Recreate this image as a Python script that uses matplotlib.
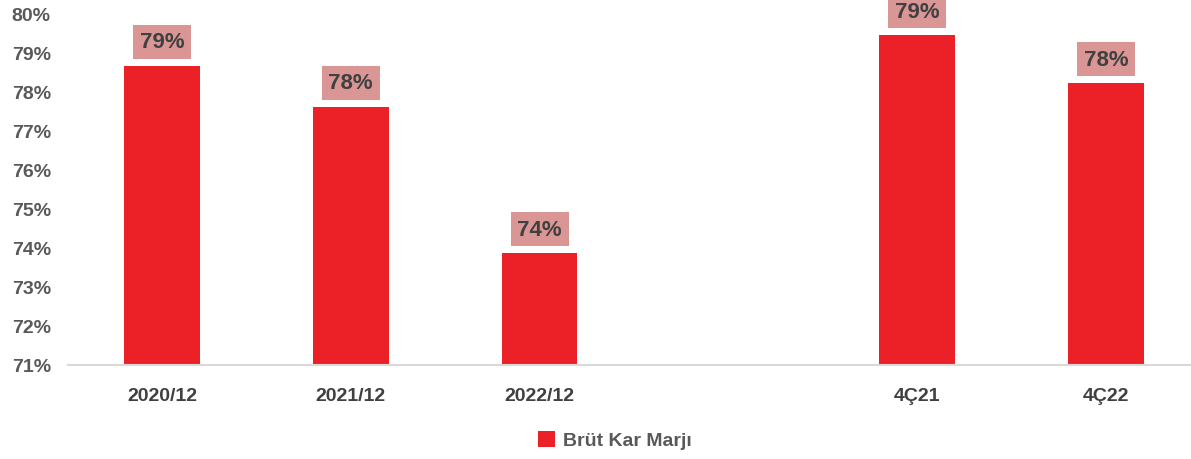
import matplotlib.pyplot as plt
from matplotlib import font_manager

categories = ["2020/12", "2021/12", "2022/12", "", "4Ç21", "4Ç22"]
margins = [78.67, 77.62, 73.87, None, 79.46, 78.23]
y_ticks = [71, 72, 73, 74, 75, 76, 77, 78, 79, 80]

names = {f.name for f in font_manager.fontManager.ttflist}
family = "Liberation Sans Narrow" if "Liberation Sans Narrow" in names else "Liberation Sans"
plt.rcParams["font.family"] = [family, "DejaVu Sans"]

BAR = "#EC2027"
BOX = "#D99694"

fig = plt.figure(figsize=(11.91, 4.60), dpi=100)
ax = fig.add_axes([67.5 / 1191, (460 - 366) / 460, 1133 / 1191, (366 - 15) / 460])

xs = [i for i, v in enumerate(margins) if v is not None]
vals = [v for v in margins if v is not None]
bars = ax.bar(xs, [v - 71 for v in vals], bottom=71, width=0.40, color=BAR,
              label="Brüt Kar Marjı")

for x, v in zip(xs, vals):
    ax.annotate(f"{v:.0f}%", (x, v), xytext=(0, 24), textcoords="offset pixels",
                ha="center", va="center", fontsize=16, fontweight="bold", color="#404040",
                bbox=dict(boxstyle="square,pad=0.3", fc=BOX, ec="none"))

ax.set_xlim(-0.5, 5.5)
ax.set_ylim(71, 80)
ax.set_yticks(y_ticks)
ax.set_yticklabels([f"{t}%" for t in y_ticks], fontsize=14, fontweight="bold", color="#595959")
ax.set_xticks(range(len(categories)))
ax.set_xticklabels(categories, fontsize=14, fontweight="bold", color="#404040")
ax.tick_params(length=0, axis="y", pad=12)
ax.tick_params(length=0, axis="x", pad=16)

for s in ["top", "right", "left"]:
    ax.spines[s].set_visible(False)
ax.spines["bottom"].set_color("#D9D9D9")
ax.spines["bottom"].set_linewidth(1.5)

fig.legend(handles=[bars], labels=["Brüt Kar Marjı"], loc="center",
           bbox_to_anchor=(615 / 1191, 1 - 441 / 460), frameon=False,
           prop=dict(size=14, weight="bold"), handlelength=0.9, handleheight=0.9,
           handletextpad=0.4, labelcolor="#595959")

fig.savefig("out.png", dpi=100)
